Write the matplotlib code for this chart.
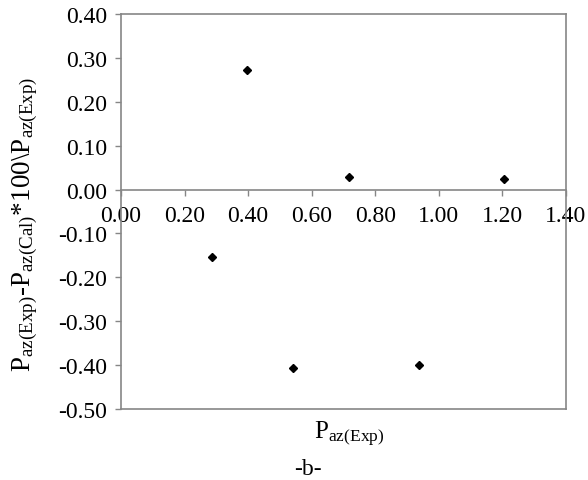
import matplotlib
matplotlib.use("Agg")
import matplotlib.pyplot as plt

# data
x_vals = [0.395, 0.716, 1.204, 0.285, 0.540, 0.936]
y_vals = [0.273, 0.028, 0.023, -0.153, -0.407, -0.400]
x_ticks = [0.0, 0.2, 0.4, 0.6, 0.8, 1.0, 1.2, 1.4]
y_ticks = [0.4, 0.3, 0.2, 0.1, 0.0, -0.1, -0.2, -0.3, -0.4, -0.5]

plt.rcParams['font.family'] = ['Liberation Serif', 'DejaVu Serif']
plt.rcParams['mathtext.fontset'] = 'custom'
plt.rcParams['mathtext.rm'] = 'Liberation Serif'
plt.rcParams['mathtext.it'] = 'Liberation Serif:italic'

fs = 17
gray = '#868686'

fig = plt.figure(figsize=(5.88, 4.81), dpi=100)
ax = fig.add_axes([121/588, 1 - 410/481, (566-121)/588, (410-15)/481])

ax.plot(x_vals, y_vals, linestyle='none', marker='D', markersize=3.8,
        color='black', clip_on=False, zorder=5)

for s in ['top', 'right', 'left', 'bottom']:
    ax.spines[s].set_color(gray)
    ax.spines[s].set_linewidth(1.2)
ax.spines['bottom'].set_position(('data', 0))
ax.plot([0, 1], [0, 0], transform=ax.transAxes, color=gray, lw=1.2, clip_on=False)

ax.set_xlim(0, 1.4)
ax.set_ylim(-0.5, 0.4)
ax.set_xticks(x_ticks)
ax.set_xticklabels([f"{v:.2f}" for v in x_ticks])
ax.set_yticks(y_ticks)
ax.set_yticklabels([f"{v:.2f}" for v in y_ticks])

ax.tick_params(axis='y', length=4, width=1, color=gray, pad=6, direction='out', labelsize=fs)
ax.tick_params(axis='x', length=4, width=1, color=gray, pad=7, direction='out', labelsize=fs)

fig.text(25/588, 1 - 224/481,
         'P$_{\\mathrm{az(Exp)}}$-P$_{\\mathrm{az(Cal)}}$*100\\P$_{\\mathrm{az(Exp)}}$',
         rotation=90, ha='center', va='center', fontsize=19.5)
fig.text(349/588, 1 - 434/481, 'P$_{\\mathrm{az(Exp)}}$',
         ha='center', va='center', fontsize=18)
fig.text(308/588, 1 - 470/481, '-b-', ha='center', va='center', fontsize=17)

fig.savefig('out.png', dpi=100)
